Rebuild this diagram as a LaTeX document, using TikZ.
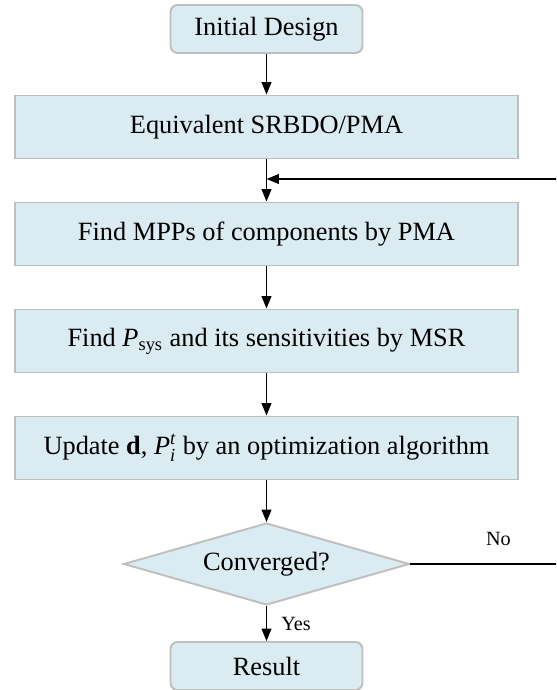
\documentclass[tikz,border=0pt]{standalone}
\usepackage{amsmath}
\usepackage{fontspec}
\setmainfont{Liberation Serif}
\usetikzlibrary{arrows.meta,shapes.geometric}

\definecolor{boxfill}{HTML}{DAEBF1}
\definecolor{boxline}{HTML}{BFBFBF}
\tikzset{
  stepbox/.style={draw=boxline, line width=1.1pt, fill=boxfill, inner sep=0pt,
    minimum width=10.06cm, minimum height=1.26cm, font=\fontsize{15}{18}\selectfont},
  endbox/.style={stepbox, rounded corners=4pt, minimum width=3.84cm, minimum height=0.96cm},
  testbox/.style={stepbox, diamond, aspect=3.49, minimum width=5.72cm, minimum height=1.64cm},
  flow/.style={-{Triangle[length=7pt,width=5.5pt]}, line width=0.9pt},
  tag/.style={font=\fontsize{11.5}{13}\selectfont, inner sep=0pt}
}

\begin{document}
\begin{tikzpicture}[x=0.02cm,y=-0.02cm]%[scale=.8]
			\useasboundingbox (0,0) rectangle (556,690);
			\clip (0,0) rectangle (556,690);
			\node[endbox]   at (266.5,29)   (init)  {Initial Design};
			\node[stepbox]  at (266.5,127)  (equiv) {Equivalent SRBDO/PMA};
			\node[stepbox]  at (266.5,234)  (mpp)   {Find MPPs of components by PMA};
			\node[stepbox]  at (266.5,341)  (psys)  {Find \textit{P}\textsubscript{sys} and its sensitivities by MSR};
			\node[stepbox]  at (266.5,448)  (upd)   {Update \textbf{d}, $\textit{P}_{\textit{i}}^{\textit{t}}$ by an optimization algorithm};
			\node[testbox]  at (266.5,564)  (conv)  {Converged?};
			\node[endbox]   at (266.5,666)  (res)   {Result};
			\coordinate (fb) at (266.5,179);
			\coordinate (rt) at (562,179);
			\draw[flow] (init) -- (equiv);
			\draw[flow] (equiv) -- (mpp);
			\draw[flow] (mpp) -- (psys);
			\draw[flow] (psys) -- (upd);
			\draw[flow] (upd) -- (conv);
			\draw[flow] (conv) -- node[tag, right=8pt] {Yes} (res);
			\draw[flow] (conv.east) -- node[tag, above=10pt, pos=0.58] {No} (rt |- conv) -- (rt) -- (fb);
		\end{tikzpicture}
\end{document}
